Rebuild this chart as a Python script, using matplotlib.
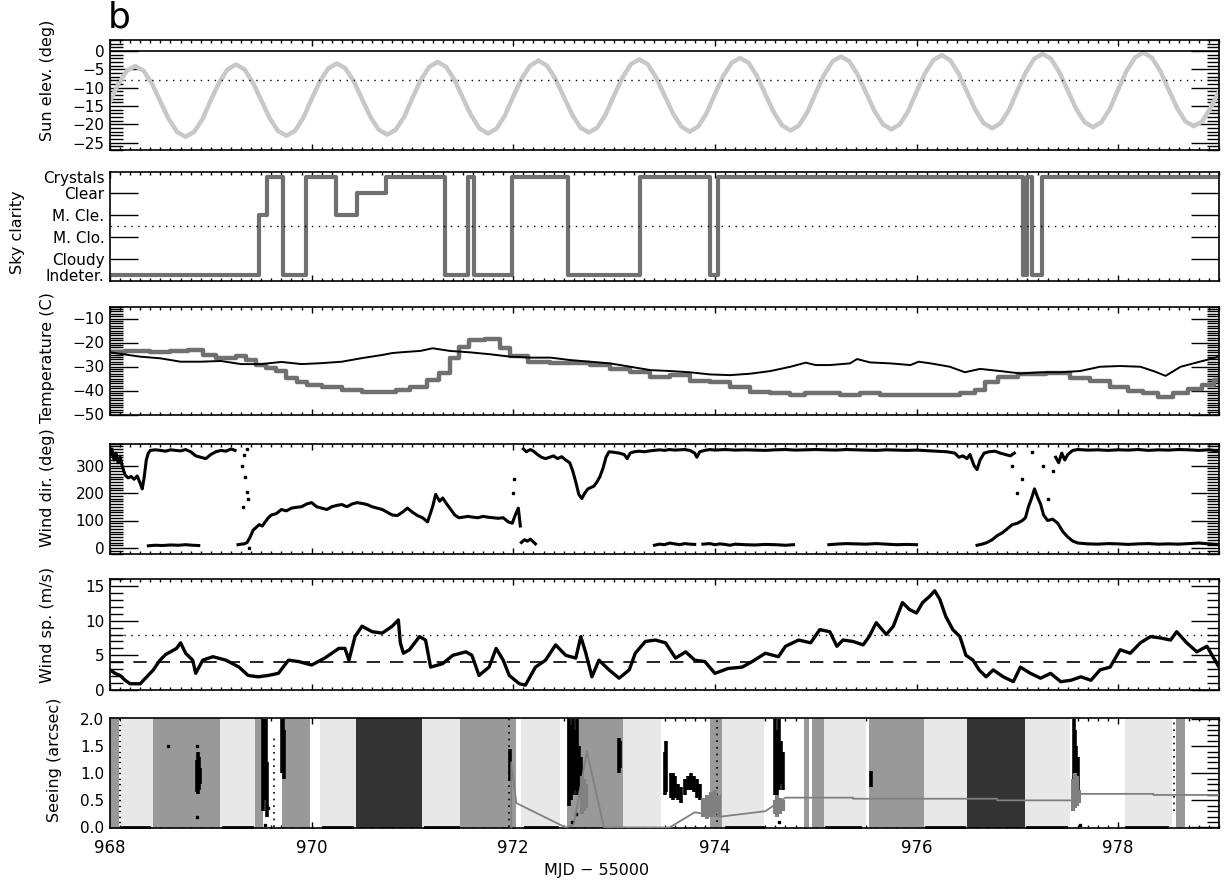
import numpy as np
import matplotlib
matplotlib.use("Agg")
import matplotlib.pyplot as plt
from matplotlib.ticker import MultipleLocator, FixedLocator, FormatStrFormatter

plt.rcParams['font.family'] = ['DejaVu Sans']

# ---------------- data ----------------
# Sun elevation, every 2 hours from MJD 968.0
sun_t0 = 968.0
sun_step = 1.0 / 12.0
sun_elev = [
    -13.8, -8.9, -5.4, -4.1, -5.4, -8.9, -13.8, -18.6, -22.1, -23.4, -22.1, -18.6,
    -13.4, -8.6, -5.0, -3.7, -5.0, -8.6, -13.4, -18.3, -21.8, -23.1, -21.8, -18.3,
    -13.1, -8.2, -4.7, -3.4, -4.7, -8.2, -13.1, -18.0, -21.5, -22.8, -21.5, -18.0,
    -12.8, -7.9, -4.3, -3.0, -4.3, -7.9, -12.8, -17.6, -21.2, -22.5, -21.2, -17.6,
    -12.4, -7.5, -4.0, -2.6, -4.0, -7.5, -12.4, -17.3, -20.9, -22.2, -20.9, -17.3,
    -12.1, -7.2, -3.6, -2.3, -3.6, -7.2, -12.1, -17.0, -20.6, -22.0, -20.6, -17.0,
    -11.8, -6.8, -3.2, -1.9, -3.2, -6.8, -11.8, -16.7, -20.3, -21.7, -20.3, -16.7,
    -11.4, -6.5, -2.8, -1.5, -2.8, -6.5, -11.4, -16.4, -20.0, -21.4, -20.0, -16.4,
    -11.1, -6.1, -2.5, -1.1, -2.5, -6.1, -11.1, -16.1, -19.7, -21.1, -19.7, -16.1,
    -10.8, -5.8, -2.1, -0.8, -2.1, -5.8, -10.8, -15.8, -19.4, -20.8, -19.4, -15.8,
    -10.5, -5.4, -1.8, -0.4, -1.8, -5.4, -10.5, -15.5, -19.2, -20.5, -19.2, -15.5,
    -11.0,
]

# Sky clarity (step changes); 0=Indeter. 1=Cloudy 2=M.Clo. 3=M.Cle. 4=Clear 5=Crystals
sky_t = [968.0, 969.48, 969.56, 969.72, 969.94, 970.24, 970.45, 970.74, 971.32, 971.55,
         971.58, 971.61, 971.99, 972.54, 973.26, 973.95, 974.03, 977.06, 977.10, 977.15,
         977.24, 979.0]
sky_code = [0, 3, 5, 0, 5, 3, 4, 5, 0, 5, 5, 0, 5, 0, 5, 0, 5, 0, 5, 0, 5, 5]
sky_labels = ['Indeter.', 'Cloudy', 'M. Clo.', 'M. Cle.', 'Clear', 'Crystals']
sky_levels = [0.25, 1, 2, 3, 4, 4.75]

# Temperature (C): black series and gray series
temp1_t = [968.0, 968.3, 968.5, 968.7, 968.9, 969.1, 969.3, 969.5, 969.7, 969.9, 970.1, 970.3,
           970.5, 970.7, 970.8, 970.88, 971.08, 971.2, 971.37, 971.57, 971.77, 971.97, 972.17,
           972.37, 972.56, 972.76, 972.96, 973.16, 973.36, 973.56, 973.75, 973.95, 974.15,
           974.35, 974.55, 974.75, 974.9, 975.0, 975.14, 975.34, 975.41, 975.54, 975.74,
           975.94, 976.02, 976.14, 976.33, 976.48, 976.63, 976.83, 977.03, 977.23, 977.43,
           977.62, 977.82, 978.02, 978.22, 978.37, 978.47, 978.62, 978.81, 979.0]
temp1_v = [-24.1, -25.9, -26.6, -28.0, -28.0, -27.7, -29.0, -29.0, -28.1, -29.0, -28.6, -28.0,
           -26.5, -25.2, -24.4, -24.1, -23.5, -22.4, -23.5, -24.1, -24.9, -25.9, -26.3,
           -26.3, -27.3, -28.0, -28.7, -30.1, -31.5, -31.9, -32.4, -33.3, -33.6,
           -33.0, -31.9, -30.1, -28.4, -29.4, -29.4, -28.7, -26.9, -28.3, -28.7,
           -29.4, -28.0, -28.7, -30.1, -32.4, -31.0, -31.9, -32.9, -32.4, -32.4,
           -31.9, -30.1, -29.8, -30.1, -32.2, -33.9, -30.1, -28.0, -25.9]
temp2_t = [968.0, 968.3, 968.5, 968.7, 968.85, 969.0, 969.1, 969.2, 969.3, 969.4, 969.5, 969.6,
           969.7, 969.8, 969.9, 970.0, 970.2, 970.4, 970.6, 970.8, 970.88, 971.08, 971.2,
           971.32, 971.42, 971.5, 971.62, 971.82, 971.92, 972.02, 972.27, 972.46, 972.66,
           972.86, 973.06, 973.26, 973.46, 973.65, 973.85, 974.05, 974.25, 974.45, 974.65,
           974.84, 974.95, 975.14, 975.34, 975.54, 975.74, 975.94, 976.14, 976.33, 976.53,
           976.63, 976.73, 976.88, 977.13, 977.43, 977.62, 977.82, 978.02, 978.17, 978.32,
           978.47, 978.62, 978.76, 978.91, 979.0]
temp2_v = [-24.1, -23.5, -23.8, -23.5, -23.1, -25.2, -26.6, -26.3, -25.5, -27.3, -29.4, -30.8,
           -31.9, -34.7, -36.4, -37.5, -38.5, -39.9, -40.6, -40.6, -39.6, -38.5, -35.7,
           -32.9, -26.6, -21.7, -18.9, -18.6, -22.2, -25.6, -28.0, -28.7, -28.7,
           -29.4, -31.0, -32.4, -34.3, -33.6, -36.1, -36.6, -38.5, -40.6, -41.2,
           -42.0, -41.2, -41.2, -42.0, -41.2, -42.0, -42.0, -42.0, -41.8, -41.2,
           -39.9, -36.6, -34.3, -33.3, -32.9, -34.7, -36.1, -38.5, -40.3, -41.2,
           -42.7, -41.2, -39.2, -37.8, -35.7]

# Wind direction (deg): main trace (NaN = break)
nan = float('nan')
wd_t = [968.00, 968.02, 968.04, 968.06, 968.08, 968.10, 968.12, 968.15, 968.18, 968.21, 968.24,
        968.27, 968.30, 968.32, 968.34, 968.36, 968.38, 968.40, 968.45, 968.50, 968.55, 968.60,
        968.65, 968.70, 968.75, 968.80, 968.85, 968.90, 968.95, 969.00, 969.05, 969.10, 969.15,
        969.20, 969.24, 969.25,
        969.27, 969.30, 969.33, 969.36, 969.39, 969.42, 969.45, 969.48, 969.51, 969.54, 969.57,
        969.60, 969.65, 969.70, 969.75, 969.80, 969.85, 969.90, 969.95, 970.00, 970.05, 970.10,
        970.15, 970.20, 970.25, 970.30, 970.35, 970.40, 970.45, 970.50, 970.55, 970.60, 970.65,
        970.70, 970.75, 970.80, 970.85, 970.90, 970.95, 971.00, 971.05, 971.10, 971.15, 971.20,
        971.23, 971.27, 971.30, 971.34, 971.38, 971.42, 971.46, 971.50, 971.55, 971.60, 971.65,
        971.70, 971.75, 971.80, 971.85, 971.90, 971.95, 971.99, 972.02, 972.05, 972.07, 972.08,
        972.10, 972.13, 972.17, 972.20, 972.24, 972.28, 972.32, 972.36, 972.40, 972.44, 972.48,
        972.52, 972.56, 972.59, 972.62, 972.65, 972.68, 972.71, 972.74, 972.77, 972.80, 972.83,
        972.86, 972.89, 972.92, 972.95, 973.00, 973.05, 973.10, 973.13, 973.16, 973.20, 973.25,
        973.30, 973.35, 973.40, 973.45, 973.50, 973.55, 973.60, 973.65, 973.70, 973.75, 973.80,
        973.82, 973.85, 973.90, 973.95, 974.00, 974.10, 974.20, 974.30, 974.40, 974.50, 974.60,
        974.70, 974.80, 974.90, 975.00, 975.10, 975.20, 975.30, 975.40, 975.50, 975.60, 975.70,
        975.80, 975.90, 976.00, 976.10, 976.20, 976.30, 976.38, 976.42, 976.46, 976.50, 976.53,
        976.57, 976.60, 976.63, 976.67, 976.72, 976.78, 976.83, 976.88, 976.93, 976.97, 976.98,
        977.38, 977.41, 977.44, 977.47, 977.50, 977.55, 977.60, 977.70, 977.80, 977.90, 978.00,
        978.10, 978.20, 978.30, 978.40, 978.50, 978.60, 978.70, 978.80, 978.90, 979.00]
wd_v = [335, 360, 320, 345, 310, 330, 300, 265, 255, 260, 250,
        262, 235, 215, 260, 320, 345, 355, 357, 355, 352, 357,
        355, 353, 358, 350, 335, 330, 325, 340, 350, 355, 352,
        360, 355, nan,
        12, 14, 15, 20, 40, 65, 75, 85, 80, 95, 110,
        120, 125, 140, 135, 145, 148, 150, 160, 165, 150, 145,
        140, 150, 155, 158, 150, 160, 165, 162, 158, 150, 145,
        140, 130, 120, 118, 130, 145, 130, 118, 110, 95, 150,
        195, 170, 182, 160, 140, 120, 110, 112, 115, 112, 110,
        115, 112, 110, 108, 110, 95, 90, 120, 145, 80, nan,
        360, 350, 358, 352, 340, 330, 325, 330, 335, 325, 332,
        320, 310, 280, 240, 195, 180, 200, 215, 220, 225, 240,
        260, 290, 330, 350, 348, 345, 340, 325, 345, 350, 352,
        350, 353, 355, 357, 355, 358, 356, 357, 358, 355, 345,
        330, 350, 355, 358, 356, 358, 356, 357, 356, 355, 357,
        358, 356, 357, 358, 357, 356, 358, 357, 356, 355, 357,
        356, 355, 356, 354, 352, 350, 345, 330, 335, 325, 340,
        300, 285, 320, 345, 350, 352, 345, 340, 335, 345, nan,
        330, 310, 345, 320, 340, 355, 358, 356, 357, 355, 357,
        356, 358, 355, 357, 356, 358, 357, 355, 357, 352]
# Wind direction: wrapped branch near 0 deg
wd2_t = [968.38, 968.45, 968.52, 968.60, 968.68, 968.75, 968.82, 968.88, 968.89,
         972.08, 972.11, 972.14, 972.17, 972.20, 972.22, 972.23,
         973.40, 973.45, 973.50, 973.55, 973.60, 973.65, 973.70, 973.75, 973.80, 973.81,
         973.88, 973.95, 974.00, 974.05, 974.10, 974.15, 974.20, 974.30, 974.40, 974.50,
         974.60, 974.70, 974.78, 974.79,
         975.13, 975.20, 975.30, 975.40, 975.50, 975.60, 975.70, 975.80, 975.90, 976.00, 976.01,
         976.60, 976.65, 976.70, 976.75, 976.80, 976.85, 976.90, 976.95, 977.00, 977.05, 977.08,
         977.11, 977.14, 977.17, 977.20, 977.23, 977.26, 977.30, 977.35, 977.40, 977.45, 977.50,
         977.55, 977.60, 977.70, 977.80, 977.90, 978.00, 978.10, 978.20, 978.30, 978.40, 978.50,
         978.60, 978.70, 978.80, 978.90, 979.00]
wd2_v = [8, 10, 9, 11, 10, 12, 10, 9, nan,
         20, 30, 25, 32, 22, 15, nan,
         10, 14, 12, 18, 15, 12, 16, 14, 13, nan,
         14, 16, 12, 15, 13, 10, 14, 12, 11, 13,
         12, 10, 12, nan,
         12, 14, 16, 15, 14, 16, 14, 12, 13, 12, nan,
         10, 14, 20, 30, 45, 55, 70, 85, 90, 100, 110,
         150, 180, 215, 185, 160, 120, 100, 105, 90, 60, 40,
         25, 18, 15, 14, 16, 15, 13, 15, 16, 14, 15,
         14, 16, 18, 15, 12]
wd3_t = [969.31, 969.32, 969.34, 969.36, 969.37, 969.38, 972.00, 972.01, 976.95, 977.00,
         977.05, 977.15, 977.25, 977.30, 977.35, 969.33, 969.36]
wd3_v = [300, 150, 260, 205, 180, 0, 200, 250, 300, 200, 250, 350, 300, 180, 280, 340, 360]

# Wind speed (m/s)
ws_t = [968.00, 968.05, 968.10, 968.15, 968.20, 968.30, 968.43, 968.49, 968.55, 968.60, 968.66,
        968.70, 968.75, 968.82, 968.85, 968.92, 969.02, 969.15, 969.28, 969.37, 969.47, 969.57,
        969.67, 969.77, 969.87, 970.00, 970.13, 970.27, 970.33, 970.37, 970.43, 970.50, 970.60,
        970.70, 970.80, 970.86, 970.88, 970.91, 970.97, 971.07, 971.13, 971.18, 971.30, 971.40,
        971.53, 971.59, 971.66, 971.76, 971.83, 971.90, 971.96, 972.06, 972.12, 972.22, 972.32,
        972.42, 972.52, 972.62, 972.67, 972.72, 972.78, 972.85, 972.95, 973.05, 973.15, 973.21,
        973.31, 973.41, 973.51, 973.61, 973.71, 973.80, 973.90, 974.00, 974.13, 974.27, 974.37,
        974.50, 974.63, 974.70, 974.83, 974.95, 975.04, 975.14, 975.21, 975.27, 975.37, 975.47,
        975.53, 975.60, 975.70, 975.77, 975.86, 975.93, 976.00, 976.06, 976.13, 976.18, 976.23,
        976.29, 976.36, 976.43, 976.49, 976.56, 976.62, 976.69, 976.76, 976.86, 976.96, 977.03,
        977.13, 977.23, 977.33, 977.43, 977.53, 977.63, 977.73, 977.82, 977.92, 978.02, 978.12,
        978.22, 978.32, 978.42, 978.52, 978.58, 978.68, 978.78, 978.88, 978.98, 979.00]
ws_v = [2.9, 2.4, 2.1, 1.4, 0.9, 0.9, 2.9, 4.2, 5.1, 5.5, 6.0,
        6.8, 5.3, 4.3, 2.4, 4.3, 4.8, 4.3, 3.3, 2.1, 1.9, 2.1,
        2.4, 4.3, 4.1, 3.6, 4.6, 6.0, 6.0, 4.3, 7.7, 9.2, 8.4,
        8.2, 9.2, 10.1, 6.8, 5.3, 5.8, 7.7, 7.2, 3.3, 3.8, 5.0,
        5.5, 5.0, 2.1, 3.3, 6.0, 4.3, 2.1, 0.9, 0.7, 3.3, 4.3,
        6.5, 5.0, 4.6, 7.7, 5.3, 1.9, 4.3, 2.9, 1.7, 2.9, 5.3,
        7.0, 7.2, 6.8, 4.6, 5.5, 4.3, 4.1, 2.4, 3.1, 3.3, 4.1,
        5.3, 4.8, 6.3, 7.2, 6.8, 8.7, 8.4, 6.3, 7.2, 7.0, 6.5,
        7.7, 9.7, 8.0, 9.2, 12.6, 11.6, 11.1, 12.6, 13.5, 14.3, 13.1,
        10.6, 8.7, 7.7, 5.0, 4.3, 2.9, 1.9, 2.9, 1.9, 1.2, 3.3,
        2.4, 1.7, 2.4, 1.2, 1.4, 1.9, 1.4, 2.9, 3.3, 5.8, 5.3,
        6.8, 7.7, 7.5, 7.2, 8.4, 6.8, 5.5, 6.3, 3.8, 3.3]

# Seeing panel: shaded bands (start, end, kind: 1 light, 2 medium, 3 dark)
band_start = [968.00, 968.11, 968.43, 969.09, 969.44, 969.71, 970.08, 970.44, 971.09, 971.47,
              972.08, 972.53, 973.09, 973.95, 974.07, 974.88, 974.96, 975.08, 975.53, 976.07,
              976.50, 977.08, 978.07, 978.57]
band_end = [968.09, 968.43, 969.09, 969.44, 969.52, 969.98, 970.44, 971.09, 971.47, 972.03,
            972.46, 973.09, 973.47, 974.07, 974.49, 974.93, 975.08, 975.50, 976.07, 976.50,
            977.08, 977.52, 978.53, 978.66]
band_kind = [2, 1, 2, 1, 2, 2, 1, 3, 1, 2,
             1, 2, 1, 2, 1, 2, 2, 1, 2, 1,
             3, 1, 1, 2]
# black marks along the bottom
mark_start = [968.12, 969.12, 970.11, 971.12, 972.12, 974.11, 975.10, 976.09, 977.10, 978.08]
mark_end = [968.39, 969.41, 970.40, 971.45, 972.43, 974.48, 975.44, 976.47, 977.48, 978.48]
# black seeing measurements (vertical extent of dense clusters)
see_t = [968.86, 968.87, 968.88, 968.89, 969.52, 969.53, 969.54, 969.55, 969.56, 969.71,
         969.72, 969.73, 971.97, 972.55, 972.57, 972.59, 972.61, 972.63, 972.65, 972.67,
         973.05, 973.06, 973.50, 973.51, 973.56, 973.58, 973.60, 973.63, 973.66, 973.70,
         973.73, 973.76, 973.79, 973.82, 973.85, 974.60, 974.62, 974.64, 974.66, 974.68,
         975.55, 977.56, 977.57, 977.58, 977.60]
see_lo = [0.65, 0.62, 0.70, 0.80, 0.30, 0.70, 0.50, 0.90, 0.20, 1.00,
          1.20, 0.90, 0.85, 0.40, 0.50, 0.60, 0.70, 0.60, 0.70, 0.80,
          1.00, 1.10, 0.60, 0.65, 0.55, 0.50, 0.55, 0.50, 0.45, 0.60,
          0.70, 0.70, 0.65, 0.55, 0.50, 0.60, 0.50, 0.70, 0.80, 0.70,
          0.75, 0.90, 0.60, 0.70, 0.50]
see_hi = [1.25, 1.40, 1.30, 1.10, 2.00, 2.00, 1.90, 2.00, 1.20, 2.00,
          2.00, 1.80, 1.45, 2.00, 1.90, 2.00, 1.80, 2.00, 1.50, 1.30,
          1.65, 1.60, 1.40, 1.60, 1.00, 1.00, 0.95, 0.80, 0.75, 0.90,
          0.95, 1.00, 0.95, 0.90, 0.80, 2.00, 1.80, 2.00, 1.60, 1.40,
          1.05, 2.00, 1.80, 1.50, 1.30]
# sparse columns of black points
sparse_t = [969.63, 971.96, 974.02, 978.55]
sparse_lo = [0.0, 0.0, 0.1, 0.3]
sparse_hi = [1.7, 2.0, 2.0, 2.0]
# isolated black points
dot_t = [968.58, 968.86, 968.86, 969.54, 969.57, 972.58, 972.62, 974.64, 977.62]
dot_v = [1.50, 1.50, 0.20, 0.05, 0.35, 0.10, 0.25, 0.10, 0.05]
# gray seeing measurements
see2_t = [972.68, 972.70, 972.72, 973.88, 973.92, 973.96, 974.00, 974.04,
          974.60, 974.62, 974.65, 974.68, 977.55, 977.57, 977.59, 977.61]
see2_lo = [0.25, 0.30, 0.35, 0.20, 0.15, 0.20, 0.25, 0.20,
           0.25, 0.20, 0.25, 0.30, 0.30, 0.35, 0.40, 0.45]
see2_hi = [0.95, 0.90, 0.80, 0.55, 0.60, 0.65, 0.70, 0.60,
           0.50, 0.60, 0.55, 0.50, 0.90, 1.00, 0.95, 0.70]
# gray connecting line
seel_t = [971.98, 971.98, 972.03, 972.52, 972.60, 972.73, 972.90, 973.55, 973.80, 974.06,
          974.50, 974.70, 975.37, 975.37, 976.80, 976.80, 977.55, 977.62, 978.35, 978.35, 979.0]
seel_v = [0.0, 1.20, 0.45, 0.0, 0.05, 1.40, 0.0, 0.0, 0.28, 0.20,
          0.30, 0.55, 0.55, 0.53, 0.53, 0.50, 0.50, 0.62, 0.62, 0.60, 0.60]

# ---------------- figure ----------------
W, H = 1226, 886
fig = plt.figure(figsize=(W / 100, H / 100), dpi=100)

x0, x1 = 110, 1219
panels_px = [(40, 150), (171.5, 280.5), (306.5, 414.5), (443.5, 553.5), (579, 690), (718, 828)]
axes = []
for top, bot in panels_px:
    ax = fig.add_axes([x0 / W, 1 - bot / H, (x1 - x0) / W, (bot - top) / H])
    axes.append(ax)

tick_fs = 11
for ax in axes:
    ax.set_xlim(968, 979)
    ax.xaxis.set_major_locator(MultipleLocator(2))
    ax.xaxis.set_minor_locator(MultipleLocator(0.1))
    ax.tick_params(which='both', direction='in', top=True, bottom=True, left=True, right=True,
                   labelsize=tick_fs, width=1.0)
    ax.tick_params(axis='x', which='major', length=4)
    ax.tick_params(axis='x', which='minor', length=2)
    ax.tick_params(axis='y', which='major', length=20, pad=4)
    ax.tick_params(axis='y', which='minor', length=9)
    for s in ax.spines.values():
        s.set_linewidth(1.2)
    if ax is not axes[-1]:
        ax.tick_params(axis='x', labelbottom=False)

# Panel 1: sun elevation
ax = axes[0]
sun_t = [sun_t0 + i * sun_step for i in range(len(sun_elev))]
ax.plot(sun_t, sun_elev, color='#c8c8c8', lw=3.2, solid_capstyle='round')
ax.axhline(0, color='black', lw=1.2)
ax.axhline(-8, color='black', lw=1.0, ls=(0, (1, 4)))
ax.set_ylim(-27, 3)
ax.yaxis.set_major_locator(MultipleLocator(5))
ax.yaxis.set_minor_locator(MultipleLocator(1))

# Panel 2: sky clarity
ax = axes[1]
sky_y = [sky_levels[c] for c in sky_code]
ax.step(sky_t, sky_y, where='post', color='#707070', lw=3)
ax.axhline(2.5, color='black', lw=1.0, ls=(0, (1, 4)))
ax.set_ylim(0, 5)
ax.yaxis.set_major_locator(FixedLocator(sky_levels))
ax.set_yticklabels(sky_labels)
ax.yaxis.set_minor_locator(FixedLocator([]))
for i, tk in enumerate(ax.yaxis.get_major_ticks()):
    if i in (0, 5):
        tk.tick1line.set_visible(False)
        tk.tick2line.set_visible(False)

# Panel 3: temperature
ax = axes[2]
ax.plot(temp2_t, temp2_v, color='#707070', lw=3.2, drawstyle='steps-mid')
ax.plot(temp1_t, temp1_v, color='black', lw=1.4)
ax.set_ylim(-50, -5)
ax.yaxis.set_major_locator(MultipleLocator(10))
ax.yaxis.set_minor_locator(MultipleLocator(1))

# Panel 4: wind direction
ax = axes[3]
ax.plot(wd_t, wd_v, color='black', lw=2.2)
ax.plot(wd2_t, wd2_v, color='black', lw=2.2)
ax.plot(wd3_t, wd3_v, 's', color='black', ms=1.5)
ax.set_ylim(-20, 380)
ax.yaxis.set_major_locator(MultipleLocator(100))
ax.yaxis.set_minor_locator(MultipleLocator(10))

# Panel 5: wind speed
ax = axes[4]
ax.plot(ws_t, ws_v, color='black', lw=2.4)
ax.axhline(8, color='black', lw=1.0, ls=(0, (1, 4)))
ax.axhline(4, color='black', lw=1.2, ls=(0, (8, 6)))
ax.set_ylim(0, 16)
ax.yaxis.set_major_locator(MultipleLocator(5))
ax.yaxis.set_minor_locator(MultipleLocator(1))

# Panel 6: seeing
ax = axes[5]
ax.set_axisbelow(True)
band_colors = {1: '#e8e8e8', 2: '#999999', 3: '#333333'}
for s, e, k in zip(band_start, band_end, band_kind):
    ax.axvspan(s, e, color=band_colors[k], lw=0, zorder=1)
for s, e in zip(mark_start, mark_end):
    ax.plot([s, e], [0.005, 0.005], color='black', lw=2, zorder=3, clip_on=False)
ax.vlines(see_t, see_lo, see_hi, color='black', lw=2.6, zorder=3)
ax.vlines(sparse_t, sparse_lo, sparse_hi, color='black', lw=1.2, linestyles=(0, (1, 3)), zorder=3)
ax.plot(dot_t, dot_v, 's', color='black', ms=1.8, zorder=3)
ax.vlines(see2_t, see2_lo, see2_hi, color='#808080', lw=3, zorder=4)
ax.plot(seel_t, seel_v, color='#808080', lw=1.3, zorder=4)
ax.set_ylim(-0.01, 2.02)
ax.yaxis.set_major_locator(MultipleLocator(0.5))
ax.yaxis.set_minor_locator(MultipleLocator(0.1))
ax.yaxis.set_major_formatter(FormatStrFormatter('%.1f'))
ax.tick_params(axis='x', labelsize=12, pad=8)
ax.set_xticks([968, 970, 972, 974, 976, 978])

# labels
lab_fs = 11.5
ylabels = [('Sun elev. (deg)', 48, 80), ('Sky clarity', 18, 232), ('Temperature (C)', 48, 358),
           ('Wind dir. (deg)', 48, 488), ('Wind sp. (m/s)', 48, 625), ('Seeing (arcsec)', 55, 760)]
for txt, px, py in ylabels:
    fig.text(px / W, 1 - py / H, txt, rotation=90, ha='center', va='center', fontsize=lab_fs)
fig.text(597 / W, 1 - 870 / H, 'MJD \u2212 55000', ha='center', va='center', fontsize=11.5)
fig.text(108 / W, 1 - 18 / H, 'b', ha='left', va='center', fontsize=26)

fig.savefig('out.png', dpi=100)
